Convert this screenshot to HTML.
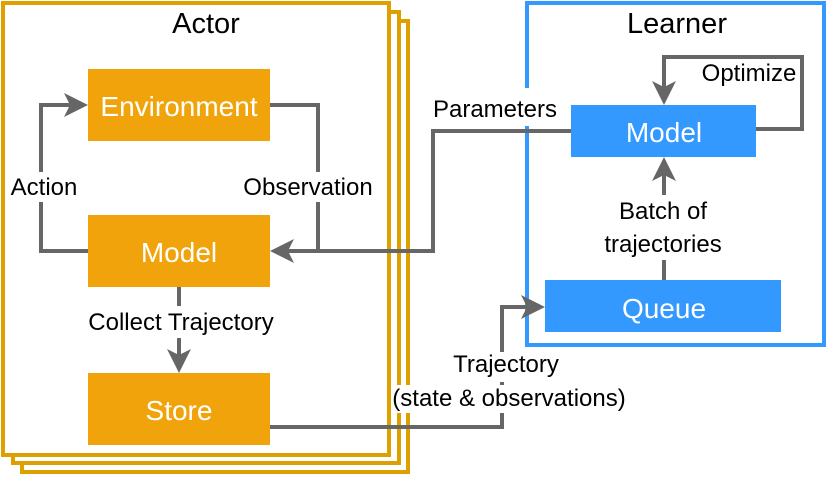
<!DOCTYPE html>
<html><head><style>html,body{margin:0;padding:0;background:#fff;}svg{display:block}</style></head><body>
<svg width="830" height="482" viewBox="0 0 830 482" xmlns="http://www.w3.org/2000/svg" font-family="Liberation Sans, sans-serif">
<defs><marker id="a" markerWidth="6" markerHeight="6" refX="5" refY="3" orient="auto" markerUnits="strokeWidth"><path d="M0,0 L6,3 L0,6 L1.5,3 z" fill="#666"/></marker></defs>
<g fill="#fff" stroke="#DDA000" stroke-width="4">
<rect x="22" y="21" width="386" height="451"/>
<rect x="13" y="12" width="386" height="451"/>
<rect x="3" y="3" width="386" height="452"/>
</g>
<rect x="527" y="3" width="297" height="342" fill="#fff" stroke="#3399FF" stroke-width="4"/>
<g fill="none" stroke="#666" stroke-width="4">
<path d="M88,251 H41 V105 H84" marker-end="url(#a)"/>
<path d="M270,105 H318 V251"/>
<path d="M571,131 H433 V251 H274" marker-end="url(#a)"/>
<path d="M179,287 V369" marker-end="url(#a)"/>
<path d="M270,427 H502 V307 H541" marker-end="url(#a)"/>
<path d="M752,129 H802 V57 H664 V101" marker-end="url(#a)"/>
<path d="M664,280 V161" marker-end="url(#a)"/>
</g>
<g fill="#fff">
<rect x="8" y="172" width="72" height="30"/>
<rect x="240" y="172" width="136" height="30"/>
<rect x="85" y="306" width="190" height="32"/>
<rect x="515" y="88" width="45" height="38"/>
<rect x="600" y="195" width="128" height="65"/>
<rect x="430" y="352" width="160" height="30"/>
<rect x="392" y="385" width="236" height="28"/>
</g>
<g fill="#F0A30A">
<rect x="88" y="69" width="182" height="72"/>
<rect x="88" y="215" width="182" height="72"/>
<rect x="88" y="373" width="182" height="72"/>
</g>
<g fill="#3399FF">
<rect x="571" y="105" width="185" height="52"/>
<rect x="545" y="280" width="236" height="52"/>
</g>
<g fill="#fff" font-size="28" text-anchor="middle">
<text x="179" y="116">Environment</text>
<text x="179" y="262">Model</text>
<text x="179" y="420">Store</text>
<text x="664" y="142">Model</text>
<text x="664" y="318">Queue</text>
</g>
<g fill="#000" font-size="24" text-anchor="middle">
<text x="206" y="33" font-size="29">Actor</text>
<text x="677" y="33" font-size="29">Learner</text>
<text x="44" y="195">Action</text>
<text x="308" y="195">Observation</text>
<text x="181" y="330">Collect Trajectory</text>
<text x="495" y="117">Parameters</text>
<text x="749" y="81">Optimize</text>
<text x="663" y="219">Batch of</text>
<text x="663" y="252">trajectories</text>
<text x="506" y="372">Trajectory</text>
<text x="509" y="406">(state &amp; observations)</text>
</g>
</svg>
</body></html>
